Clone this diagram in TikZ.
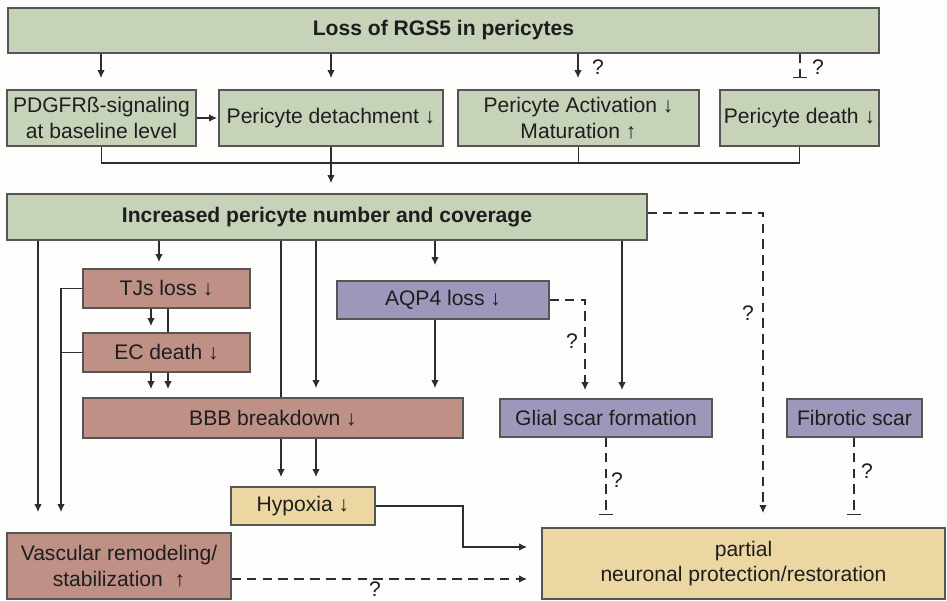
\documentclass[tikz,border=0pt]{standalone}
\usepackage{fontspec}
\setmainfont{Liberation Sans}
\usetikzlibrary{arrows.meta,backgrounds}
\definecolor{grn}{RGB}{198,211,185}
\definecolor{rbx}{RGB}{191,144,134}
\definecolor{pur}{RGB}{157,151,188}
\definecolor{yel}{RGB}{236,215,162}
\definecolor{bord}{RGB}{85,85,85}
\definecolor{lc}{RGB}{45,45,45}
\definecolor{txt}{RGB}{30,30,30}
\definecolor{bgc}{RGB}{253,253,251}
\newcommand\mkbox[7]{\node[#6, minimum width={(#4-#2)*0.02cm}, minimum height={(#5-#3)*0.02cm}] (#1) at ({(#2+#4)/2},{(#3+#5)/2}) {#7};}
\begin{document}
\begin{tikzpicture}[x=0.02cm,y=-0.02cm,
  font=\fontsize{12}{14.5}\selectfont,
  box/.style={draw=bord,line width=0.7pt,inner sep=0pt,outer sep=0pt,align=center,text=txt},
  gbox/.style={box,fill=grn},
  rbox/.style={box,fill=rbx},
  pbox/.style={box,fill=pur},
  ybox/.style={box,fill=yel},
  ln/.style={draw=lc,line width=0.6pt},
  arr/.style={ln,-{Latex[length=4.5pt,width=4.2pt]}},
  inh/.style={ln,-{Bar[width=7.5pt,line width=0.7pt]}},
  dsh/.style={dash pattern=on 5.5pt off 3.5pt},
  gp/.style={shorten >={#1*0.02cm}},
  q/.style={inner sep=0pt,text=txt}]
\useasboundingbox (0,0) rectangle (947,600);

\mkbox{top}{8}{8}{879}{53}{gbox}{\bfseries Loss of RGS5 in pericytes}
\mkbox{pdg}{7}{90}{196}{146}{gbox}{PDGFRß-signaling\\at baseline level}
\mkbox{det}{219}{90}{443}{146}{gbox}{Pericyte detachment ↓}
\mkbox{act}{458}{90}{699}{146}{gbox}{Pericyte Activation ↓\\Maturation ↑}
\mkbox{dth}{720}{90}{879}{146}{gbox}{Pericyte death ↓}
\mkbox{inc}{7}{194}{647}{240}{gbox}{\bfseries Increased pericyte number and coverage}
\mkbox{tjs}{83}{269}{250}{308}{rbox}{TJs loss ↓}
\mkbox{ec}{83}{333}{250}{372}{rbox}{EC death ↓}
\mkbox{aqp}{337}{281}{549}{319}{pbox}{AQP4 loss ↓}
\mkbox{bbb}{83}{398}{463}{438}{rbox}{BBB breakdown ↓}
\mkbox{gli}{500}{399}{712}{437}{pbox}{Glial scar formation}
\mkbox{fib}{787}{399}{922}{437}{pbox}{Fibrotic scar}
\mkbox{hyp}{231}{487}{375}{525}{ybox}{Hypoxia ↓}
\mkbox{vas}{7}{533}{231}{599}{rbox}{Vascular remodeling/\\stabilization~ ↑}
\mkbox{par}{542}{528}{945}{599}{ybox}{partial\\neuronal protection/restoration}

\begin{pgfonlayer}{background}
\fill[bgc] (0,0) rectangle (947,600);
% from top box
\draw[arr,gp=12] (101,0 |- top.south) -- (101,0 |- pdg.north);
\draw[arr,gp=12] (331,0 |- top.south) -- (331,0 |- det.north);
\draw[arr,gp=12] (578,0 |- top.south) -- (578,0 |- act.north);
\draw[inh,dsh,gp=12] (800,0 |- top.south) -- (800,0 |- dth.north);
% second row
\draw[arr,gp=2] (pdg.east) -- (det.west);
\draw[ln] (pdg.south) -- ++(0,17) -| (dth.south);
\draw[ln] (act.south) -- ++(0,17);
\draw[arr,gp=11] (det.south) -- (det.south |- inc.north);
% from increased
\draw[arr,gp=21] (38,0 |- inc.south) -- (38,0 |- vas.north);
\draw[arr,gp=7] (159,0 |- inc.south) -- (159,0 |- tjs.north);
\draw[arr,gp=10] (281,0 |- inc.south) -- (281,0 |- hyp.north);
\draw[arr,gp=10] (316,0 |- inc.south) -- (316,0 |- bbb.north);
\draw[arr,gp=16] (435,0 |- inc.south) -- (435,0 |- aqp.north);
\draw[arr,gp=9] (622,0 |- inc.south) -- (622,0 |- gli.north);
\draw[arr,dsh,gp=15] (inc.east |- 0,213) -| (763,0 |- par.north);
% TJs / EC
\draw[arr,gp=7] (151,0 |- tjs.south) -- (151,0 |- ec.north);
\draw[arr,gp=9] (168,0 |- tjs.south) -- (168,0 |- bbb.north);
\draw[arr,gp=9] (151,0 |- ec.south) -- (151,0 |- bbb.north);
\draw[arr,gp=21] (tjs.west) -| (61,0 |- vas.north);
\draw[ln] (ec.west) -- (61,0 |- ec.west);
% AQP4
\draw[arr,gp=10] (435,0 |- aqp.south) -- (435,0 |- bbb.north);
\draw[arr,dsh,gp=9] (aqp.east) -| (585,0 |- gli.north);
% BBB -> hypoxia
\draw[arr,gp=10] (316,0 |- bbb.south) -- (316,0 |- hyp.north);
% to partial
\draw[arr,gp=15] (hyp.east) -- (hyp.east -| 463,0) |- (par.west |- 0,547);
\draw[arr,dsh,gp=15] (vas.east |- 0,579) -- (par.west |- 0,579);
\draw[inh,dsh,gp=13] (606,0 |- gli.south) -- (606,0 |- par.north);
\draw[inh,dsh,gp=13] (854,0 |- fib.south) -- (854,0 |- par.north);
\end{pgfonlayer}

% question marks
\node[q] (q1) at (598,67) {?};
\node[q] (q2) at (818,67) {?};
\node[q] (q3) at (748,313) {?};
\node[q] (q4) at (572,341) {?};
\node[q] (q5) at (617,480) {?};
\node[q] (q6) at (867,471) {?};
\node[q,anchor=north] (q7) at (375,581) {?};
\end{tikzpicture}
\end{document}
